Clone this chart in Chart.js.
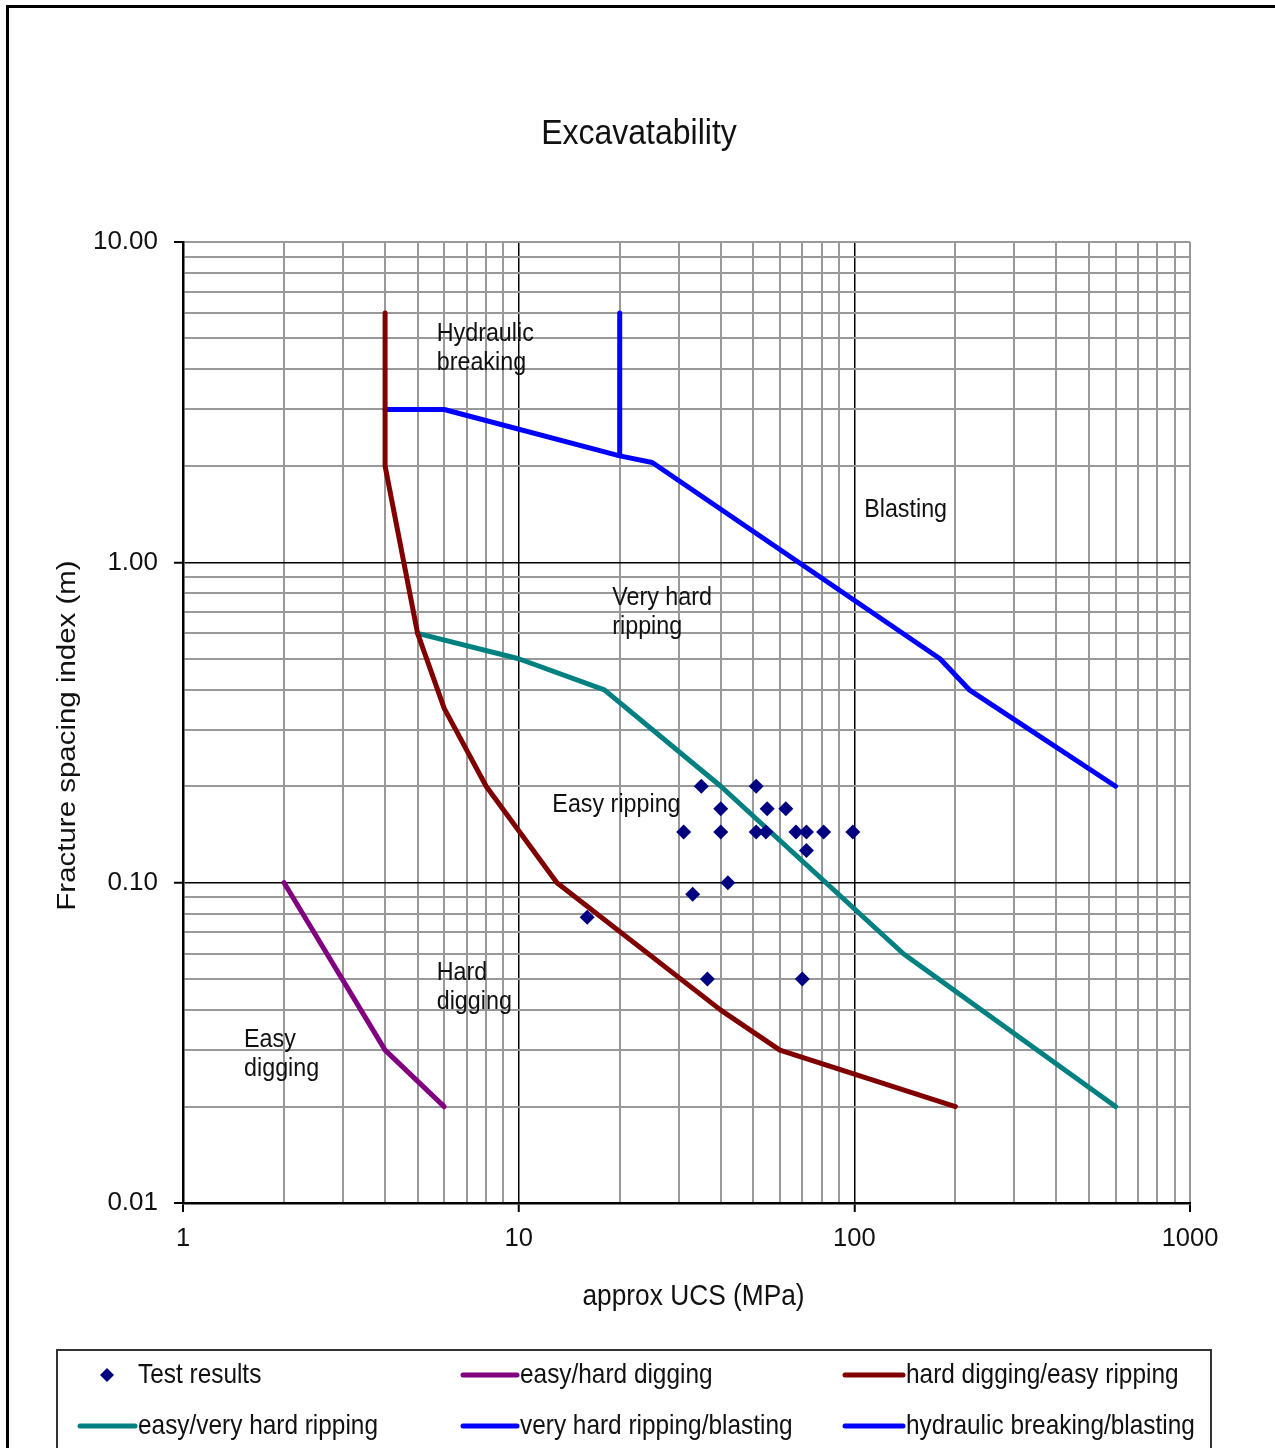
<!DOCTYPE html>
<html>
<head>
<meta charset="utf-8">
<title>Excavatability</title>
<script src="https://cdn.jsdelivr.net/npm/chart.js@4.4.1/dist/chart.umd.min.js"></script>
<style>
html, body { margin: 0; padding: 0; background: #fff; }
canvas { display: block; }
</style>
</head>
<body>
<canvas id="excavatability" width="1275" height="1448"></canvas>
<script>
// test results (UCS MPa / fracture spacing m)
var testUcs     = [35, 51, 40, 55, 62.5, 31, 40, 51, 54.5, 67, 72, 81, 99, 72, 42, 33, 16, 36.5, 70];
var testSpacing = [0.2, 0.2, 0.17, 0.17, 0.17, 0.144, 0.144, 0.144, 0.144, 0.144, 0.144, 0.144, 0.144, 0.126, 0.1, 0.092, 0.078, 0.05, 0.05];

// boundary lines
var easyHardUcs = [2, 4, 6];
var easyHardSpacing = [0.1, 0.03, 0.02];
var hardEasyUcs = [4, 4, 5, 6, 8, 13, 40, 60, 200];
var hardEasySpacing = [6, 2, 0.6, 0.35, 0.2, 0.1, 0.04, 0.03, 0.02];
var rippingUcs = [5, 10, 18, 40, 140, 600];
var rippingSpacing = [0.6, 0.5, 0.4, 0.2, 0.06, 0.02];
var blastingUcs = [4, 6, 20, 25, 180, 220, 600];
var blastingSpacing = [3, 3, 2.15, 2.05, 0.5, 0.4, 0.2];
var hydraulicUcs = [20, 20];
var hydraulicSpacing = [6, 2.15];

var seriesNames = ["Test results", "easy/hard digging", "hard digging/easy ripping",
    "easy/very hard ripping", "very hard ripping/blasting", "hydraulic breaking/blasting"];

// axis ticks
var xMajor = [1, 10, 100, 1000];
var xMajorLabels = ["1", "10", "100", "1000"];
var yMajor = [0.01, 0.1, 1, 10];
var yMajorLabels = ["0.01", "0.10", "1.00", "10.00"];

// zone captions
var zoneText = [["Hydraulic", "breaking"], ["Blasting"], ["Very hard", "ripping"], ["Easy ripping"], ["Hard", "digging"], ["Easy", "digging"]];
var zoneUcs = [5.7, 107, 19, 12.6, 5.7, 1.52];
var zoneSpacing = [5.2, 1.47, 0.78, 0.176, 0.0526, 0.0325];

var FONT = "'Liberation Sans', Arial, sans-serif";
var SY = 1.12;

function toPoints(xs, ys){
    var pts = [];
    for(var i = 0; i < xs.length; i++){
        pts.push({x: xs[i], y: ys[i]});
    }
    return pts;
}
function logTicks(majors){
    var out = [];
    for(var i = 0; i < majors.length - 1; i++){
        for(var d = 1; d < 10; d++){
            out.push(d * majors[i]);
        }
    }
    out.push(majors[majors.length - 1]);
    return out;
}
function majorIndex(v, majors){
    for(var i = 0; i < majors.length; i++){
        if(Math.abs(v / majors[i] - 1) < 1e-6) return i;
    }
    return -1;
}
function gridColor(majors){
    return function(c){
        if(!c.tick) return "#999";
        var i = majorIndex(c.tick.value, majors);
        if(i > 0 && i < majors.length - 1) return "#000";
        return "#999";
    }
}
function gridWidth(majors){
    return function(c){
        if(!c.tick) return 2;
        var i = majorIndex(c.tick.value, majors);
        if(i > 0 && i < majors.length - 1) return 1.5;
        return 2;
    }
}
function tickColor(majors){
    return function(c){
        if(c.tick && majorIndex(c.tick.value, majors) >= 0) return "#000";
        return "rgba(0,0,0,0)";
    }
}
function tickLabel(majors, labels){
    return function(value){
        var i = majorIndex(value, majors);
        return i >= 0 ? labels[i] : "";
    }
}
function stretchedText(ctx, text, x, y, size, align){
    ctx.save();
    ctx.translate(x, y);
    ctx.scale(1, SY);
    ctx.font = size + "px " + FONT;
    ctx.fillStyle = "#111";
    ctx.textAlign = align;
    ctx.textBaseline = "middle";
    ctx.fillText(text, 0, 0);
    ctx.restore();
}
function drawDiamond(ctx, x, y, r, color){
    ctx.beginPath();
    ctx.moveTo(x, y - r);
    ctx.lineTo(x + r, y);
    ctx.lineTo(x, y + r);
    ctx.lineTo(x - r, y);
    ctx.closePath();
    ctx.fillStyle = color;
    ctx.fill();
}
function drawTitles(chart){
    var ctx = chart.ctx;
    var area = chart.chartArea;
    stretchedText(ctx, "Excavatability", 639, 134, 32, "center");
    stretchedText(ctx, "approx UCS (MPa)", (area.left + area.right) / 2 + 7, 1297, 26.3, "center");
    ctx.save();
    ctx.translate(68, (area.top + area.bottom) / 2 + 13);
    ctx.rotate(-Math.PI / 2);
    ctx.scale(SY, 1);
    ctx.font = "26.3px " + FONT;
    ctx.fillStyle = "#111";
    ctx.textAlign = "center";
    ctx.textBaseline = "middle";
    ctx.fillText("Fracture spacing index (m)", 0, 0);
    ctx.restore();
}
function drawZoneText(chart){
    var ctx = chart.ctx;
    var xs = chart.scales.x, ys = chart.scales.y;
    for(var i = 0; i < zoneText.length; i++){
        var px = xs.getPixelForValue(zoneUcs[i]);
        var py = ys.getPixelForValue(zoneSpacing[i]);
        for(var k = 0; k < zoneText[i].length; k++){
            stretchedText(ctx, zoneText[i][k], px, py + 1 + k * 28.5, 23.3, "left");
        }
    }
}
function drawLegendBox(chart){
    var ctx = chart.ctx;
    var cols = [[80, 135, 138], [463, 517, 520], [845, 903, 906]];
    var rows = [1375, 1426];
    ctx.save();
    ctx.lineWidth = 2;
    ctx.strokeStyle = "#333";
    ctx.strokeRect(57, 1350, 1154, 200);
    var sets = chart.data.datasets;
    for(var i = 0; i < sets.length; i++){
        var col = cols[i % 3];
        var y = rows[Math.floor(i / 3)];
        if(sets[i].showLine){
            ctx.beginPath();
            ctx.moveTo(col[0], y);
            ctx.lineTo(col[1], y);
            ctx.lineWidth = 5;
            ctx.lineCap = "round";
            ctx.strokeStyle = sets[i].borderColor;
            ctx.stroke();
        }
        else{
            drawDiamond(ctx, 107, y, 7, sets[i].backgroundColor);
        }
        stretchedText(ctx, sets[i].label, col[2], y, 24.4, "left");
    }
    ctx.restore();
}
var excavDecor = {
    id: "excavDecor",
    beforeDraw: function(chart){
        var ctx = chart.ctx;
        ctx.save();
        ctx.fillStyle = "#fff";
        ctx.fillRect(0, 0, chart.width, chart.height);
        ctx.lineWidth = 3;
        ctx.strokeStyle = "#000";
        ctx.strokeRect(7.5, 6.5, 1320, 1520);
        ctx.restore();
    },
    afterDraw: function(chart){
        drawTitles(chart);
        drawZoneText(chart);
        drawLegendBox(chart);
    }
};
function lineSet(label, xs, ys, color){
    return {
        label: label,
        data: toPoints(xs, ys),
        showLine: true,
        borderColor: color,
        backgroundColor: color,
        borderWidth: 5,
        borderJoinStyle: "round",
        borderCapStyle: "round",
        pointRadius: 0,
        order: 1
    };
}
function initchart(){
    var ctx = document.getElementById("excavatability").getContext("2d");
    var chart = new Chart(ctx, {
        type: "scatter",
        data: {
            datasets: [
                {
                    label: seriesNames[0],
                    data: toPoints(testUcs, testSpacing),
                    showLine: false,
                    pointStyle: "rectRot",
                    pointRadius: 7.5,
                    backgroundColor: "#000080",
                    borderColor: "#000080",
                    borderWidth: 0,
                    order: 0
                },
                lineSet(seriesNames[1], easyHardUcs, easyHardSpacing, "#800080"),
                lineSet(seriesNames[2], hardEasyUcs, hardEasySpacing, "#800000"),
                lineSet(seriesNames[3], rippingUcs, rippingSpacing, "#008080"),
                lineSet(seriesNames[4], blastingUcs, blastingSpacing, "#0000ff"),
                lineSet(seriesNames[5], hydraulicUcs, hydraulicSpacing, "#0000ff")
            ]
        },
        options: {
            responsive: false,
            animation: false,
            layout: {padding: {left: 0, top: 242, right: 85, bottom: 200}},
            plugins: {
                legend: {display: false},
                title: {display: false},
                tooltip: {enabled: false}
            },
            scales: {
                x: {
                    type: "logarithmic",
                    min: 1,
                    max: 1000,
                    afterBuildTicks: function(scale){
                        scale.ticks = logTicks(xMajor).map(function(v){ return {value: v}; });
                    },
                    afterFit: function(scale){ scale.height = 45; },
                    ticks: {
                        autoSkip: false,
                        maxRotation: 0,
                        padding: 12,
                        color: "#111",
                        font: {family: FONT, size: 25.5},
                        callback: tickLabel(xMajor, xMajorLabels)
                    },
                    grid: {
                        color: gridColor(xMajor),
                        lineWidth: gridWidth(xMajor),
                        tickColor: tickColor(xMajor),
                        tickLength: 9,
                        tickWidth: 2
                    },
                    border: {color: "#000", width: 2.5}
                },
                y: {
                    type: "logarithmic",
                    min: 0.01,
                    max: 10,
                    afterBuildTicks: function(scale){
                        scale.ticks = logTicks(yMajor).map(function(v){ return {value: v}; });
                    },
                    afterFit: function(scale){ scale.width = 183; },
                    ticks: {
                        autoSkip: false,
                        padding: 16,
                        color: "#111",
                        font: {family: FONT, size: 26},
                        callback: tickLabel(yMajor, yMajorLabels)
                    },
                    grid: {
                        color: gridColor(yMajor),
                        lineWidth: gridWidth(yMajor),
                        tickColor: tickColor(yMajor),
                        tickLength: 9,
                        tickWidth: 2
                    },
                    border: {color: "#000", width: 2.5}
                }
            }
        },
        plugins: [excavDecor]
    });
}
initchart();
</script>
</body>
</html>
